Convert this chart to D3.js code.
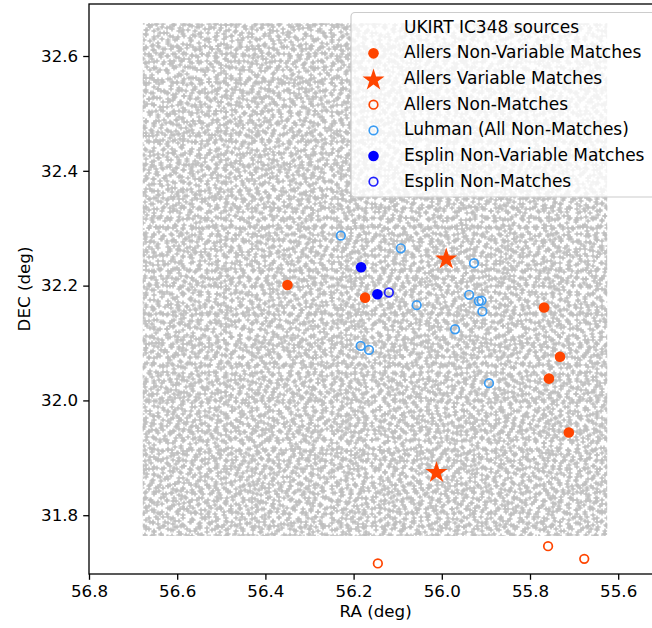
<!DOCTYPE html>
<html><head><meta charset="utf-8">
<script src="https://cdn.jsdelivr.net/npm/d3@7"></script>
<style>body{margin:0;background:#fff}svg{display:block;font-family:"DejaVu Sans",sans-serif}</style>
</head><body><svg id="c" width="652" height="628"></svg>
<script>
// ---- data (RA, DEC in degrees) ----
const ukirtRA = [56.678, 55.625];      // extent of the UKIRT IC348 source field
const ukirtDEC = [31.764, 32.657];
const allersNonVarRA  = [56.350, 56.174, 55.768, 55.732, 55.757, 55.712];
const allersNonVarDEC = [32.201, 32.179, 32.162, 32.076, 32.038, 31.944];
const allersVarRA  = [55.990, 56.012];
const allersVarDEC = [32.248, 31.876];
const allersNonMatchRA  = [56.145, 55.759, 55.677];
const allersNonMatchDEC = [31.716, 31.746, 31.724];
const luhmanRA  = [56.229, 56.093, 55.927, 55.938, 55.916, 55.910, 55.908, 56.057, 55.970, 56.184, 56.165, 55.893];
const luhmanDEC = [32.287, 32.265, 32.239, 32.184, 32.173, 32.174, 32.155, 32.166, 32.124, 32.095, 32.088, 32.030];
const esplinNonVarRA  = [56.183, 56.146];
const esplinNonVarDEC = [32.232, 32.185];
const esplinNonMatchRA  = [56.120];
const esplinNonMatchDEC = [32.188];
const xTicks = [56.8, 56.6, 56.4, 56.2, 56.0, 55.8, 55.6];
const yTicks = [31.8, 32.0, 32.2, 32.4, 32.6];
const legendLabels = ["UKIRT IC348 sources","Allers Non-Variable Matches","Allers Variable Matches","Allers Non-Matches","Luhman (All Non-Matches)","Esplin Non-Variable Matches","Esplin Non-Matches"];

// ---- styles ----
const ORANGE = "#ff4500", LBLUE = "#3a9bf2", BLUE = "#0000ff", EBLUE = "#1f1fff", GRAY = "#c0c0c0";
const FS = 16.7, LFS = 17;
const svg = d3.select("#c");
const L = 89, R = 662.3, T = 4, B = 574;
const x = d3.scaleLinear().domain([56.8, 55.5]).range([L, R]);
const y = d3.scaleLinear().domain([31.6976, 32.6906]).range([B, T]);

svg.append("rect").attr("width",652).attr("height",628).attr("fill","#fff");
const defs = svg.append("defs");
defs.append("clipPath").attr("id","plotclip").append("rect")
  .attr("x",L).attr("y",T).attr("width",R-L).attr("height",B-T);

// texture tiles standing in for the dense field of '+' markers (style only)
const tiles = [
  {w:41,h:37,p:[[4,5],[11,3],[19,7],[27,4],[35,6],[7,12],[15,14],[23,11],[31,13],[38,17],[3,19],[12,20],[20,22],[28,19],[34,24],[6,27],[16,28],[24,30],[31,31],[37,33],[19,34],[3,33],[26,25],[13,9],[36,10],[22,17],[10,24]]},
  {w:47,h:43,p:[[5,4],[12,7],[8,13],[17,3],[24,6],[30,3],[38,5],[43,10],[34,11],[27,13],[19,12],[4,20],[13,19],[22,21],[40,18],[44,24],[9,27],[17,29],[26,28],[33,25],[38,31],[5,35],[13,37],[21,39],[29,36],[36,39],[43,36],[31,20],[3,40]]},
  {w:37,h:53,p:[[4,6],[13,4],[22,8],[31,5],[8,15],[18,17],[28,14],[33,22],[4,25],[14,27],[24,29],[10,36],[20,40],[30,37],[5,45],[15,49],[25,47],[33,49],[35,30]]},
  {w:53,h:29,p:[[5,4],[14,8],[23,3],[31,9],[40,5],[48,10],[9,15],[19,18],[28,16],[37,20],[46,17],[4,24],[14,25],[24,25],[33,26],[43,25],[50,24]]}
];
tiles.forEach((t,i)=>{
  const pat = defs.append("pattern").attr("id","pt"+i).attr("patternUnits","userSpaceOnUse")
    .attr("width",t.w).attr("height",t.h);
  pat.append("path").attr("d", t.p.map(([a,b])=>`M${a-2.6},${b}h5.2M${a},${b-2.6}v5.2`).join(""))
    .attr("stroke",GRAY).attr("stroke-width",1.5).attr("fill","none");
});

const plot = svg.append("g").attr("clip-path","url(#plotclip)");
tiles.forEach((t,i)=>{
  plot.append("rect")
    .attr("x", x(ukirtRA[0])).attr("y", y(ukirtDEC[1]))
    .attr("width", x(ukirtRA[1]) - x(ukirtRA[0]))
    .attr("height", y(ukirtDEC[0]) - y(ukirtDEC[1]))
    .attr("fill", `url(#pt${i})`);
});

function pts(ra, dec){ return ra.map((r,i)=>[r, dec[i]]); }
const starPath = d3.symbol().type(d3.symbolStar).size(150)();

plot.selectAll(".anv").data(pts(allersNonVarRA, allersNonVarDEC)).join("circle")
  .attr("cx",d=>x(d[0])).attr("cy",d=>y(d[1])).attr("r",5.3).attr("fill",ORANGE);
plot.selectAll(".av").data(pts(allersVarRA, allersVarDEC)).join("path")
  .attr("d",starPath).attr("transform",d=>`translate(${x(d[0])},${y(d[1])+1})`).attr("fill",ORANGE);
plot.selectAll(".anm").data(pts(allersNonMatchRA, allersNonMatchDEC)).join("circle")
  .attr("cx",d=>x(d[0])).attr("cy",d=>y(d[1])).attr("r",4.3).attr("fill","none")
  .attr("stroke",ORANGE).attr("stroke-width",1.7);
plot.selectAll(".lu").data(pts(luhmanRA, luhmanDEC)).join("circle")
  .attr("cx",d=>x(d[0])).attr("cy",d=>y(d[1])).attr("r",4.3).attr("fill","none")
  .attr("stroke",LBLUE).attr("stroke-width",1.7);
plot.selectAll(".env").data(pts(esplinNonVarRA, esplinNonVarDEC)).join("circle")
  .attr("cx",d=>x(d[0])).attr("cy",d=>y(d[1])).attr("r",5.3).attr("fill",BLUE);
plot.selectAll(".enm").data(pts(esplinNonMatchRA, esplinNonMatchDEC)).join("circle")
  .attr("cx",d=>x(d[0])).attr("cy",d=>y(d[1])).attr("r",4.3).attr("fill","none")
  .attr("stroke",EBLUE).attr("stroke-width",1.7);

// axes
const xa = svg.append("g").attr("transform",`translate(0,${B})`)
  .call(d3.axisBottom(x).tickValues(xTicks).tickFormat(d3.format(".1f")).tickSize(5.8).tickPadding(5));
const ya = svg.append("g").attr("transform",`translate(${L},0)`)
  .call(d3.axisLeft(y).tickValues(yTicks).tickFormat(d3.format(".1f")).tickSize(5.8).tickPadding(5));
[xa,ya].forEach(a=>{
  a.select(".domain").remove();
  a.selectAll("line").attr("stroke","#000").attr("stroke-width",1.3);
  a.selectAll("text").attr("font-size",FS).attr("fill","#000").attr("font-family","DejaVu Sans");
});
// spines
svg.append("rect").attr("x",L).attr("y",T).attr("width",R-L).attr("height",B-T)
  .attr("fill","none").attr("stroke","#000").attr("stroke-width",1.3);

svg.append("text").attr("x",(L+R)/2).attr("y",617).attr("text-anchor","middle")
  .attr("font-size",FS).text("RA (deg)");
svg.append("text").attr("transform",`translate(30,${(T+B)/2}) rotate(-90)`).attr("text-anchor","middle")
  .attr("font-size",FS).text("DEC (deg)");

// legend
const lg = svg.append("g");
lg.append("rect").attr("x",351).attr("y",12.5).attr("width",320).attr("height",184.5).attr("rx",4)
  .attr("fill","#fff").attr("fill-opacity",0.8).attr("stroke","#cccccc").attr("stroke-width",1.2);
const rowY = i => 26.7 + i*25.67;
const mx = 373.5;
legendLabels.forEach((lab,i)=>{
  lg.append("text").attr("x",404).attr("y",rowY(i)).attr("dy","0.35em").attr("font-size",LFS).attr("fill","#000").text(lab);
});
lg.append("circle").attr("cx",mx).attr("cy",rowY(1)+1).attr("r",5.3).attr("fill",ORANGE);
lg.append("path").attr("d",starPath).attr("transform",`translate(${mx},${rowY(2)+2})`).attr("fill",ORANGE);
lg.append("circle").attr("cx",mx).attr("cy",rowY(3)+1).attr("r",4.3).attr("fill","none").attr("stroke",ORANGE).attr("stroke-width",1.7);
lg.append("circle").attr("cx",mx).attr("cy",rowY(4)+1).attr("r",4.3).attr("fill","none").attr("stroke",LBLUE).attr("stroke-width",1.7);
lg.append("circle").attr("cx",mx).attr("cy",rowY(5)+1).attr("r",5.3).attr("fill",BLUE);
lg.append("circle").attr("cx",mx).attr("cy",rowY(6)+1).attr("r",4.3).attr("fill","none").attr("stroke",EBLUE).attr("stroke-width",1.7);
</script></body></html>
